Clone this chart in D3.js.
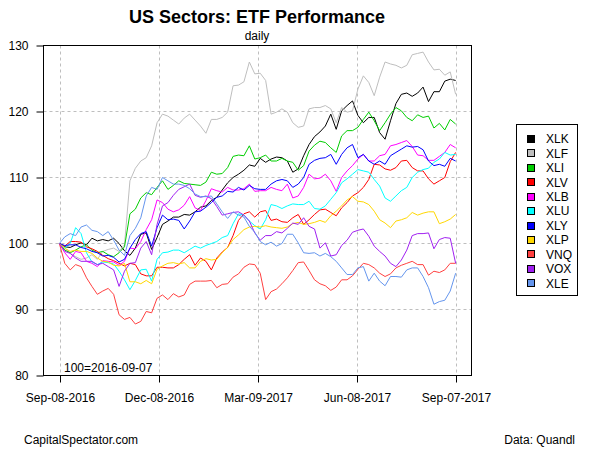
<!DOCTYPE html>
<html>
<head>
<meta charset="utf-8">
<script src="https://cdn.jsdelivr.net/npm/d3@7"></script>
<style>
  html, body { margin: 0; padding: 0; background: #fff; }
  svg { display: block; font-family: "Liberation Sans", Arial, sans-serif; }
</style>
</head>
<body>
<svg id="chart" width="600" height="450"></svg>
<script>
// ---- data (index = 100 on 2016-09-07), sampled every 5 calendar days ----
const startDate = "2016-09-07";
const stepDays = 5;

const tickers = ["XLK","XLF","XLI","XLV","XLB","XLU","XLY","XLP","VNQ","VOX","XLE"];
const colors  = ["#000000","#BEBEBE","#00CD00","#FF0000","#FF00FF","#00FFFF","#0000FF","#FFD700","#FF4040","#A020F0","#6495ED"];

const XLK = [100,99.5,99.4,99.8,100.1,99.8,100.8,100.4,100.6,100.4,100.8,100.0,98.9,98.2,99.3,101.4,101.6,99.1,100.9,102.9,103.4,104.0,104.0,104.4,104.3,104.8,105.5,105.7,106.5,107.0,108.1,109.2,110.0,110.5,111.1,111.9,111.7,112.9,112.3,112.8,113.1,113.0,112.5,110.8,111.3,113.3,115.0,116.2,116.9,117.8,119.6,117.3,120.1,120.9,121.6,119.4,118.3,119.1,119.1,116.8,115.8,118.6,121.2,122.6,122.8,122.3,122.8,123.7,121.5,123.0,123.0,124.6,124.9,124.7];
const XLF = [100,99.3,98.5,98.0,97.6,97.8,98.3,97.6,98.8,99.1,99.3,98.8,99.8,109.5,111.4,112.5,113.0,114.8,118.3,119.6,119.3,118.7,118.1,119.0,119.6,118.7,117.8,116.7,118.8,118.8,119.1,119.9,123.9,124.0,124.5,127.5,125.7,125.8,124.7,119.6,119.9,120.4,119.9,118.3,117.6,117.8,120.4,120.6,120.6,120.9,120.4,118.3,120.6,119.9,120.1,123.4,125.4,124.4,122.4,125.2,127.5,127.2,127.0,126.6,127.0,128.6,128.8,129.0,127.5,126.3,126.4,125.5,126.0,122.6];
const XLI = [100,99.0,98.6,99.0,99.5,99.8,99.0,98.6,98.8,98.3,98.0,98.6,99.5,104.5,105.2,106.9,107.7,107.4,108.5,109.5,108.2,108.8,109.5,109.1,109.0,108.9,108.8,109.3,110.8,110.5,110.6,111.5,113.2,113.4,113.3,114.8,112.8,113.0,113.4,112.5,112.5,112.9,112.5,112.3,111.1,111.8,114.0,114.9,115.5,115.3,114.5,113.8,116.3,117.1,117.1,117.6,118.8,119.9,118.6,117.1,118.3,119.6,120.6,120.1,119.1,118.6,119.5,119.1,119.3,117.5,118.2,117.2,118.8,118.1];
const XLV = [100,99.6,100.3,100.3,100.2,99.5,99.2,98.8,98.2,97.7,97.4,97.0,96.6,97.0,96.8,95.4,95.1,95.1,96.4,96.4,96.3,96.3,96.8,97.6,98.3,96.7,97.8,97.3,96.0,97.8,98.7,99.4,101.2,103.5,104.5,104.8,104.0,104.8,105.0,103.5,103.7,103.3,103.2,103.9,104.4,102.9,103.6,104.4,105.1,105.2,104.7,104.2,105.4,106.2,107.2,107.7,108.5,109.7,112.0,111.9,111.3,111.1,111.5,112.5,112.6,111.5,111.0,111.0,109.8,109.0,109.5,110.0,112.4,113.8];
const XLB = [100,98.6,97.6,98.8,98.6,97.3,97.0,96.5,97.4,97.3,97.2,96.7,97.3,99.3,99.2,100.3,102.1,103.6,106.6,106.2,105.2,104.8,105.1,105.8,107.1,105.4,105.0,106.5,108.3,108.0,107.8,108.5,108.1,108.1,108.3,109.0,107.9,108.0,108.0,108.5,108.2,108.0,109.0,106.9,107.2,108.5,110.5,109.8,109.9,110.5,109.5,107.9,110.0,111.0,111.8,112.8,113.5,112.5,112.5,113.3,113.5,114.8,115.0,115.3,115.6,114.7,113.4,113.3,112.6,112.6,113.2,113.8,115.0,114.5];
const XLU = [100,99.3,100.0,102.4,101.5,98.6,97.2,96.8,97.2,97.1,96.9,95.8,94.5,93.0,94.4,96.0,96.1,94.3,97.6,98.6,98.7,99.0,99.0,98.6,99.1,99.6,99.3,99.7,100.0,100.3,100.9,101.2,103.0,104.5,104.3,103.4,102.7,102.2,103.6,105.9,105.7,105.3,105.7,106.0,105.9,105.9,106.4,105.3,105.2,105.7,106.7,107.7,109.2,109.8,110.5,111.2,111.0,110.8,109.7,108.7,106.9,106.4,107.2,108.0,108.5,110.0,110.8,111.2,111.4,112.3,112.8,113.8,113.4,113.5];
const XLY = [100,99.7,99.8,99.8,99.4,99.2,98.8,98.6,98.1,98.2,97.9,97.2,97.6,99.3,100.6,101.5,101.8,99.6,102.4,104.3,103.6,103.7,103.5,102.2,103.4,104.8,104.9,105.5,106.2,107.0,107.2,107.9,107.8,108.5,108.1,108.8,108.3,108.2,108.2,109.0,109.5,109.7,109.5,108.5,109.0,110.0,112.0,112.6,112.9,113.0,113.5,112.0,113.5,114.5,115.0,113.0,113.5,112.5,112.0,112.5,112.0,113.3,113.8,114.3,114.8,114.6,114.7,114.2,112.5,111.8,112.0,111.7,112.9,112.5];
const XLP = [100,99.3,98.8,99.0,98.8,98.8,98.5,97.8,97.3,97.2,96.7,96.6,97.0,94.2,94.2,93.9,94.4,93.9,96.1,96.6,97.0,97.1,96.9,97.1,96.3,96.3,97.3,97.7,97.5,97.6,98.6,99.4,100.6,101.3,102.1,102.5,102.6,102.5,102.7,102.5,102.4,102.3,102.5,103.0,103.2,102.9,103.0,103.2,103.5,103.2,104.2,104.9,105.7,106.6,107.1,106.4,106.3,105.9,104.9,103.6,103.1,102.4,103.4,103.6,103.9,104.7,104.3,104.6,104.8,104.8,103.0,103.3,103.7,104.4];
const VNQ = [100,97.0,96.0,96.8,96.5,94.8,93.5,92.3,92.8,93.2,92.3,89.2,88.5,88.8,87.8,88.2,89.7,89.5,91.7,92.2,91.5,92.4,91.9,92.2,93.8,94.3,94.3,94.3,94.4,93.3,93.8,93.9,94.9,95.4,96.4,96.9,96.8,95.5,91.5,92.7,93.1,93.9,94.8,95.9,97.1,97.2,95.9,94.5,93.9,93.6,92.9,93.4,94.5,94.5,95.1,96.1,97.0,96.8,96.3,95.5,95.0,95.4,96.3,96.7,97.0,97.3,96.8,96.8,95.2,95.8,95.6,96.0,97.0,97.0];
const VOX = [100,98.8,98.5,97.8,97.3,97.3,97.3,96.8,97.0,96.5,96.0,93.5,95.8,97.0,97.1,99.3,100.3,98.3,102.9,105.7,106.2,107.3,108.2,108.6,109.0,107.3,107.0,107.2,106.8,105.6,104.3,104.5,104.7,104.8,104.3,103.4,101.6,100.5,101.2,101.2,101.8,101.6,102.3,103.1,102.9,103.9,102.6,102.2,99.3,100.1,98.1,98.3,99.7,100.5,101.7,102.0,102.2,101.1,99.6,98.8,98.1,97.0,96.5,97.5,99.0,101.2,101.5,101.5,101.6,99.2,100.6,100.9,100.8,97.0];
const XLE = [100,101.0,101.5,101.2,102.5,102.8,102.0,101.8,101.2,101.8,100.5,99.0,98.2,101.2,102.3,103.9,107.2,108.5,108.2,110.0,109.5,109.0,109.0,108.8,108.3,107.5,107.1,107.1,107.2,106.0,104.8,103.8,104.8,104.3,104.0,102.6,101.7,100.3,99.8,100.2,99.6,100.0,101.4,101.4,100.1,98.6,98.5,98.6,98.1,98.5,98.0,97.3,96.3,95.3,95.3,96.3,96.5,94.3,95.5,94.3,93.6,95.0,95.0,94.9,96.0,96.3,96.3,95.0,93.3,90.8,91.2,91.4,92.8,95.5];

const seriesValues = [XLK, XLF, XLI, XLV, XLB, XLU, XLY, XLP, VNQ, VOX, XLE];

const xTickDates  = ["2016-09-08","2016-12-08","2017-03-09","2017-06-08","2017-09-07"];
const xTickLabels = ["Sep-08-2016","Dec-08-2016","Mar-09-2017","Jun-08-2017","Sep-07-2017"];
const yTicks = [80, 90, 100, 110, 120, 130];

const titleText = "US Sectors: ETF Performance";
const subtitleText = "daily";
const baseNote = "100=2016-09-07";
const leftCredit = "CapitalSpectator.com";
const rightCredit = "Data: Quandl";

// ---- drawing ----
const svg = d3.select("#chart");
const parse = d3.utcParse("%Y-%m-%d");
const t0 = parse(startDate);
const dates = XLK.map((_, i) => d3.utcDay.offset(t0, i * stepDays));
const tEnd = dates[dates.length - 1];

const plot = { left: 43.5, right: 471.5, top: 45.5, bottom: 375.5 };
const padDays = 14.6;
const x = d3.scaleUtc()
  .domain([new Date(+t0 - padDays * 864e5), new Date(+tEnd + padDays * 864e5)])
  .range([plot.left, plot.right]);
const y = d3.scaleLinear().domain([80, 130]).range([plot.bottom, plot.top]);

const font = "Liberation Sans, Arial, sans-serif";

// title
svg.append("text").attr("x", 257).attr("y", 23).attr("text-anchor", "middle")
  .attr("font-size", 18).attr("font-weight", "bold").attr("font-family", font).text(titleText);
svg.append("text").attr("x", 257).attr("y", 40).attr("text-anchor", "middle")
  .attr("font-size", 12).attr("font-family", font).text(subtitleText);

// grid
const grid = svg.append("g").attr("stroke", "#BEBEBE").attr("stroke-width", 1)
  .attr("stroke-dasharray", "3,3").attr("fill", "none");
xTickDates.forEach(d => {
  const xv = Math.round(x(parse(d))) + 0.5;
  grid.append("line").attr("x1", xv).attr("x2", xv).attr("y1", plot.top).attr("y2", plot.bottom);
});
yTicks.filter(v => v > 80 && v < 130).forEach(v => {
  grid.append("line").attr("x1", plot.left).attr("x2", plot.right).attr("y1", y(v)).attr("y2", y(v));
});

// clip
svg.append("clipPath").attr("id", "clip").append("rect")
  .attr("x", plot.left).attr("y", plot.top)
  .attr("width", plot.right - plot.left).attr("height", plot.bottom - plot.top);

const line = d3.line().x((d, i) => x(dates[i])).y(d => y(d));
const lines = svg.append("g").attr("clip-path", "url(#clip)");
seriesValues.forEach((vals, k) => {
  lines.append("path").datum(vals).attr("d", line)
    .attr("fill", "none").attr("stroke", colors[k]).attr("stroke-width", 1)
    .attr("stroke-linejoin", "round");
});

// box
svg.append("rect").attr("x", plot.left).attr("y", plot.top)
  .attr("width", plot.right - plot.left).attr("height", plot.bottom - plot.top)
  .attr("fill", "none").attr("stroke", "#000").attr("stroke-width", 1);

// axes
const yAxis = d3.axisLeft(y).tickValues(yTicks).tickSize(7).tickPadding(8).tickFormat(d3.format("d"));
const gy = svg.append("g").attr("transform", `translate(${plot.left},0)`).call(yAxis);
gy.select(".domain").remove();
gy.selectAll("text").attr("font-size", 12).attr("font-family", font).attr("fill", "#000");
gy.selectAll("line").attr("stroke", "#000");

const xAxis = d3.axisBottom(x).tickValues(xTickDates.map(parse)).tickSize(7).tickPadding(11)
  .tickFormat((d, i) => xTickLabels[i]);
const gx = svg.append("g").attr("transform", `translate(0,${plot.bottom})`).call(xAxis);
gx.select(".domain").remove();
gx.selectAll("text").attr("font-size", 12).attr("font-family", font).attr("fill", "#000");
gx.selectAll("line").attr("stroke", "#000");
gx.selectAll(".tick").attr("transform", d => `translate(${Math.round(x(d)) + 0.5},0)`);

// base note
svg.append("text").attr("x", 64).attr("y", 372).attr("font-size", 12).attr("font-family", font).text(baseNote);

// credits
svg.append("text").attr("x", 24).attr("y", 444).attr("font-size", 12).attr("font-family", font).text(leftCredit);
svg.append("text").attr("x", 575).attr("y", 444).attr("text-anchor", "end").attr("font-size", 12).attr("font-family", font).text(rightCredit);

// legend
const lg = svg.append("g");
lg.append("rect").attr("x", 516.5).attr("y", 124.5).attr("width", 61).attr("height", 171)
  .attr("fill", "#fff").attr("stroke", "#000").attr("stroke-width", 1);
tickers.forEach((t, k) => {
  const cy = 139 + k * 14.43;
  lg.append("rect").attr("x", 527.5).attr("y", Math.round(cy - 4) + 0.5).attr("width", 7).attr("height", 7)
    .attr("fill", colors[k]).attr("stroke", "#000").attr("stroke-width", 1);
  lg.append("text").attr("x", 546).attr("y", cy).attr("dy", "0.36em")
    .attr("font-size", 12).attr("font-family", font).text(t);
});
</script>
</body>
</html>
